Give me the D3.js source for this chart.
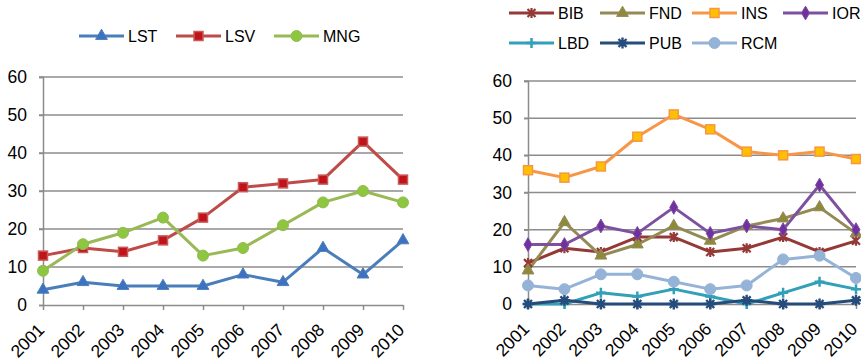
<!DOCTYPE html>
<html><head><meta charset="utf-8">
<script src="https://cdn.jsdelivr.net/npm/d3@7"></script>
<style>
body{margin:0;background:#fff;}
svg{display:block;font-family:"Liberation Sans",Arial,sans-serif;}
</style></head>
<body>
<svg id="c" width="861" height="361"></svg>
<script>
const years = ["2001","2002","2003","2004","2005","2006","2007","2008","2009","2010"];
const yTicks = [0,10,20,30,40,50,60];

// Left chart series
const LST = [4,6,5,5,5,8,6,15,8,17];
const LSV = [13,15,14,17,23,31,32,33,43,33];
const MNG = [9,16,19,23,13,15,21,27,30,27];

// Right chart series
const BIB = [11,15,14,18,18,14,15,18,14,17];
const FND = [9,22,13,16,21,17,21,23,26,19];
const INS = [36,34,37,45,51,47,41,40,41,39];
const IOR = [16,16,21,19,26,19,21,20,32,20];
const LBD = [0,0,3,2,4,2,0,3,6,4];
const PUB = [0,1,0,0,0,0,1,0,0,1];
const RCM = [5,4,8,8,6,4,5,12,13,7];

const leftSeries = [
  {name:"LST", data:LST, color:"#4A7EBB", mfill:"#3C72C0", mstroke:"#4A7EBB", marker:"triangle"},
  {name:"LSV", data:LSV, color:"#BE4B48", mfill:"#C0141A", mstroke:"#C85A57", marker:"square"},
  {name:"MNG", data:MNG, color:"#98B954", mfill:"#8DC63F", mstroke:"#98B954", marker:"circle"}
];
const rightSeries = [
  {name:"BIB", data:BIB, color:"#953937", mfill:"#953937", mstroke:"#953937", marker:"xbar"},
  {name:"FND", data:FND, color:"#948A54", mfill:"#8E8A3C", mstroke:"#948A54", marker:"triangle"},
  {name:"INS", data:INS, color:"#F79646", mfill:"#FFC000", mstroke:"#F79646", marker:"square"},
  {name:"IOR", data:IOR, color:"#7D50A0", mfill:"#7030A0", mstroke:"#7D50A0", marker:"diamond"},
  {name:"LBD", data:LBD, color:"#31A0B8", mfill:"#31A0B8", mstroke:"#31A0B8", marker:"plus"},
  {name:"PUB", data:PUB, color:"#254C7B", mfill:"#1F3F6A", mstroke:"#254C7B", marker:"star"},
  {name:"RCM", data:RCM, color:"#95B3D7", mfill:"#95B3D7", mstroke:"#95B3D7", marker:"circle"}
];

const svg = d3.select("#c");

function drawMarker(g, type, x, y, s){
  if(type==="triangle"){
    g.append("path").attr("d", d3.symbol(d3.symbolTriangle, 60)()).attr("transform",`translate(${x},${y})`)
      .attr("fill", s.mfill).attr("stroke", s.mstroke).attr("stroke-width",1);
  } else if(type==="square"){
    g.append("rect").attr("x",x-4.5).attr("y",y-4.5).attr("width",9).attr("height",9)
      .attr("fill", s.mfill).attr("stroke", s.mstroke).attr("stroke-width",1.5);
  } else if(type==="circle"){
    g.append("circle").attr("cx",x).attr("cy",y).attr("r",5.5)
      .attr("fill", s.mfill).attr("stroke", s.mstroke).attr("stroke-width",1);
  } else if(type==="diamond"){
    g.append("path").attr("d", d3.symbol(d3.symbolDiamond, 55)()).attr("transform",`translate(${x},${y})`)
      .attr("fill", s.mfill).attr("stroke", s.mstroke).attr("stroke-width",1);
  } else if(type==="plus"){
    g.append("path").attr("d",`M${x-5},${y}L${x+5},${y}M${x},${y-5}L${x},${y+5}`)
      .attr("stroke", s.mstroke).attr("stroke-width",2.5).attr("fill","none");
  } else if(type==="xbar"){
    g.append("path").attr("d",`M${x-4},${y-4}L${x+4},${y+4}M${x-4},${y+4}L${x+4},${y-4}M${x},${y-5}L${x},${y+5}`)
      .attr("stroke", s.mstroke).attr("stroke-width",2.2).attr("fill","none");
  } else if(type==="star"){
    g.append("path").attr("d",`M${x-4},${y-4}L${x+4},${y+4}M${x-4},${y+4}L${x+4},${y-4}M${x},${y-5.5}L${x},${y+5.5}M${x-5.5},${y}L${x+5.5},${y}`)
      .attr("stroke", s.mstroke).attr("stroke-width",2.4).attr("fill","none");
  }
}

function drawChart(cfg){
  const g = svg.append("g");
  const x = d3.scalePoint().domain(years).range([cfg.x0, cfg.x1]);
  const y = d3.scaleLinear().domain([0,60]).range([cfg.y0, cfg.y1]);

  // gridlines
  g.selectAll(".grid").data(yTicks.filter(d=>d>0)).join("line")
    .attr("x1", cfg.x0-4).attr("x2", cfg.x1).attr("y1", d=>y(d)).attr("y2", d=>y(d))
    .attr("stroke","#8C8C8C").attr("stroke-width",1.5);

  // y axis
  const ya = g.append("g").attr("transform",`translate(${cfg.x0},0)`)
    .call(d3.axisLeft(y).tickValues(yTicks).tickSize(4).tickPadding(cfg.ypad));
  ya.select(".domain").attr("stroke","#8C8C8C").attr("stroke-width",1.5);
  ya.selectAll(".tick line").attr("stroke","#8C8C8C").attr("stroke-width",1.5);
  ya.selectAll("text").attr("font-size",17.5).attr("fill","#000").attr("font-family","Liberation Sans, Arial, sans-serif");

  // x axis
  const xa = g.append("g").attr("transform",`translate(0,${cfg.y0})`)
    .call(d3.axisBottom(x).tickSizeInner(5).tickSizeOuter(0));
  xa.select(".domain").attr("stroke","#8C8C8C").attr("stroke-width",1.5);
  xa.selectAll(".tick line").attr("stroke","#8C8C8C").attr("stroke-width",1.5);
  xa.selectAll("text").attr("font-size",17.5).attr("fill","#000").attr("font-family","Liberation Sans, Arial, sans-serif")
    .attr("text-anchor","end").attr("dy",0).attr("y",0)
    .attr("transform","translate(2,26) rotate(-45)");

  // lines
  const line = d3.line().x((d,i)=>x(years[i])).y(d=>y(d));
  cfg.series.forEach(s=>{
    g.append("path").datum(s.data).attr("d", line).attr("fill","none")
      .attr("stroke", s.color).attr("stroke-width",3).attr("stroke-linejoin","round");
  });
  cfg.series.forEach(s=>{
    s.data.forEach((v,i)=>drawMarker(g, s.marker, x(years[i]), y(v), s));
  });

  // legend
  cfg.series.forEach((s,i)=>{
    const lx = cfg.legendX[i], ly = cfg.legendY[i];
    g.append("line").attr("x1",lx).attr("x2",lx+45).attr("y1",ly).attr("y2",ly)
      .attr("stroke", s.color).attr("stroke-width",3);
    drawMarker(g, s.marker, lx+22.5, ly, s);
    g.append("text").attr("x", lx+49).attr("y", ly).attr("dy","0.36em")
      .attr("font-size",16).attr("fill","#000").text(s.name);
  });
}

drawChart({x0:43, x1:403, y0:305, y1:77, ypad:12, series:leftSeries,
  legendX:[79,176,274], legendY:[36,36,36]});
drawChart({x0:528, x1:856, y0:304, y1:81, ypad:12, series:rightSeries,
  legendX:[509,600,692,783,509,600,692], legendY:[13,13,13,13,43,43,43]});
</script>
</body></html>
